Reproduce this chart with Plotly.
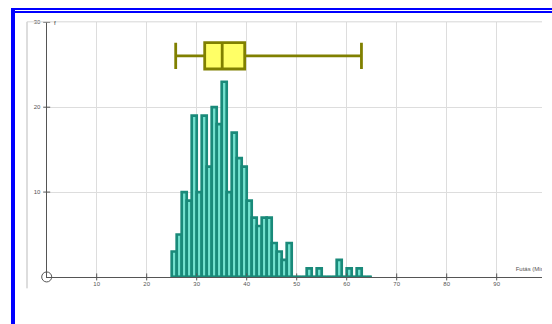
import plotly.graph_objects as go

# ---------------- data ----------------
bin_left = [25, 26, 27, 28, 29, 30, 31, 32, 33, 34, 35, 36, 37, 38, 39, 40,
            41, 42, 43, 44, 45, 46, 47, 48, 49, 50, 51, 52, 53, 54, 55, 56,
            57, 58, 59, 60, 61, 62, 63, 64]
counts = [3, 5, 10, 9, 19, 10, 19, 13, 20, 18, 23, 10, 17, 14, 13, 9,
          7, 6, 7, 7, 4, 3, 2, 4, 0, 0, 0, 1, 0, 1, 0, 0,
          0, 2, 0, 1, 0, 1, 0, 0]
bin_width = 1

box_min = 25.8
box_q1 = 31.6
box_median = 35.1
box_q3 = 39.6
box_max = 62.95
box_y = 26.05
box_height = 3.1

x_ticks = [10, 20, 30, 40, 50, 60, 70, 80, 90]
y_ticks = [10, 20, 30]
x_title = "Futás (Min)"
y_title = "f"

# ---------------- styling ----------------
W, H = 552, 324
X0PX, XSCALE = 46.7, 5.0        # pixel of x=0, px per unit
Y0PX, YTOPPX = 276.5, 19.5      # pixel of y=0 and y=30
RIGHTPX = 542.0

teal_dark = "#1a8a7a"
teal_fill = "#74e2cf"
olive = "#808000"
box_fill = "#ffff66"
axis_col = "#555555"
grid_col = "#dddddd"
txt_col = "#555555"
font_fam = "Liberation Sans, Arial, sans-serif"

fig = go.Figure()

fig.add_trace(go.Bar(
    x=[b + bin_width / 2 for b in bin_left], y=counts, width=bin_width,
    marker=dict(color=teal_fill, line=dict(color=teal_dark, width=2.7)),
    showlegend=False, hoverinfo="skip"))

fig.add_trace(go.Box(
    orientation="h", y=[box_y], q1=[box_q1], median=[box_median], q3=[box_q3],
    lowerfence=[box_min], upperfence=[box_max], width=box_height,
    whiskerwidth=1, fillcolor=box_fill, line=dict(color=olive, width=2.8),
    boxpoints=False, showlegend=False, hoverinfo="skip"))

# tick crosses
fig.add_trace(go.Scatter(
    x=x_ticks, y=[0] * len(x_ticks), mode="markers", cliponaxis=False,
    marker=dict(symbol="line-ns", size=5, color=axis_col,
                line=dict(color=axis_col, width=1)),
    showlegend=False, hoverinfo="skip"))
fig.add_trace(go.Scatter(
    x=[0] * len(y_ticks), y=y_ticks, mode="markers", cliponaxis=False,
    marker=dict(symbol="line-ew", size=5, color=axis_col,
                line=dict(color=axis_col, width=1)),
    showlegend=False, hoverinfo="skip"))

# histogram baseline (covers empty classes)
fig.add_trace(go.Scatter(
    x=[bin_left[0], bin_left[-1] + bin_width], y=[0, 0], mode="lines",
    line=dict(color=teal_dark, width=2.6), cliponaxis=False,
    showlegend=False, hoverinfo="skip"))

# origin circle
fig.add_trace(go.Scatter(
    x=[0], y=[0], mode="markers", cliponaxis=False,
    marker=dict(symbol="circle-open", size=10, color=axis_col,
                line=dict(width=1, color=axis_col)),
    showlegend=False, hoverinfo="skip"))

# x-axis title (clipped at the view edge, as in the original)
fig.add_trace(go.Scatter(
    x=[(515.7 - X0PX) / XSCALE], y=[0.9], mode="text", text=[x_title],
    textposition="middle right", cliponaxis=True,
    textfont=dict(size=6, color=txt_col, family=font_fam),
    showlegend=False, hoverinfo="skip"))

xr = (RIGHTPX - X0PX) / XSCALE
fig.update_layout(
    width=W, height=H, autosize=False,
    margin=dict(l=0, r=0, t=0, b=0),
    paper_bgcolor="white", plot_bgcolor="white",
    xaxis=dict(domain=[X0PX / W, RIGHTPX / W], range=[0, xr],
               tickvals=x_ticks, ticktext=[str(v) for v in x_ticks],
               showgrid=True, gridcolor=grid_col, gridwidth=1,
               showline=True, linecolor=axis_col, linewidth=1.2,
               zeroline=False, ticks="", ticklabelstandoff=1,
               tickfont=dict(size=6, color=txt_col, family=font_fam),
               layer="below traces", fixedrange=True),
    yaxis=dict(domain=[1 - Y0PX / H, 1 - YTOPPX / H], range=[0, 30],
               tickvals=y_ticks, ticktext=[str(v) for v in y_ticks],
               showgrid=True, gridcolor=grid_col, gridwidth=1,
               showline=True, linecolor=axis_col, linewidth=1.2,
               zeroline=False, ticks="", ticklabelstandoff=4,
               tickfont=dict(size=6, color=txt_col, family=font_fam),
               layer="below traces", fixedrange=True),
    annotations=[dict(x=1.0, y=29.9, xref="x", yref="y", text=y_title,
                      showarrow=False, xanchor="left", yanchor="middle",
                      font=dict(size=6, color="#333333", family=font_fam))],
    shapes=[
        # view frame lines
        dict(type="line", xref="paper", yref="paper", x0=27 / W, x1=27 / W,
             y0=1 - 19 / H, y1=1 - 288 / H, line=dict(color="#bbbbbb", width=1)),
        dict(type="line", xref="paper", yref="paper", x0=27 / W, x1=RIGHTPX / W,
             y0=1 - 19 / H, y1=1 - 19 / H, line=dict(color="#d6d6d6", width=1)),
        # blue borders
        dict(type="rect", xref="paper", yref="paper", x0=11 / W, x1=15 / W,
             y0=0, y1=1 - 5 / H, fillcolor="#0000ff", line=dict(width=0)),
        dict(type="rect", xref="paper", yref="paper", x0=11 / W, x1=1,
             y0=1 - 7 / H, y1=1 - 5 / H, fillcolor="#0000ff", line=dict(width=0)),
        dict(type="rect", xref="paper", yref="paper", x0=15 / W, x1=1,
             y0=1 - 10 / H, y1=1 - 8 / H, fillcolor="#0000ff", line=dict(width=0)),
    ],
)

fig.write_html("out.html", config={"displayModeBar": False},
               post_script="document.body.style.margin='0';document.body.style.overflow='hidden';")
